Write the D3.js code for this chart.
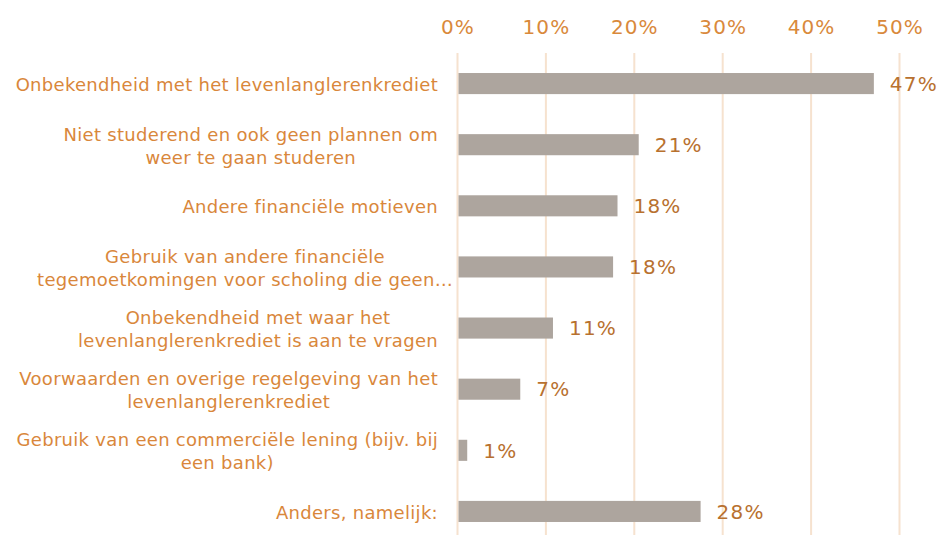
<!DOCTYPE html>
<html>
<head>
<meta charset="utf-8">
<script src="https://cdn.jsdelivr.net/npm/d3@7"></script>
<style>
  body { margin: 0; background: #fff; }
</style>
</head>
<body>
<div id="chart"></div>
<script>
// data
var categories = [
    ["Onbekendheid met het levenlanglerenkrediet"],
    ["Niet studerend en ook geen plannen om", "weer te gaan studeren"],
    ["Andere financiële motieven"],
    ["Gebruik van andere financiële", "tegemoetkomingen voor scholing die geen…"],
    ["Onbekendheid met waar het", "levenlanglerenkrediet is aan te vragen"],
    ["Voorwaarden en overige regelgeving van het", "levenlanglerenkrediet"],
    ["Gebruik van een commerciële lening (bijv. bij", "een bank)"],
    ["Anders, namelijk:"]
];
var values = [0.471, 0.205, 0.181, 0.176, 0.108, 0.071, 0.011, 0.275];
var ticks = [0, 0.1, 0.2, 0.3, 0.4, 0.5];

// settings
var W = 941, H = 535,
font = "'DejaVu Sans', Verdana, sans-serif",
col = {label: "#d9873b", tick: "#d9893b", value: "#b8712f", bar: "#ada59e", grid: "#f6e2cf"};

var svg = d3.select("#chart").append("svg")
    .attr("width", W)
    .attr("height", H);

var x = d3.scaleLinear().domain([0, 0.5]).range([457.5, 899.5]);
var y = d3.scaleBand()
    .domain(d3.range(categories.length))
    .range([53, 542])
    .paddingInner(0.655)
    .paddingOuter(0.3275);

// gridlines
svg.append("g")
    .selectAll("line")
    .data(ticks)
    .enter()
    .append("line")
        .attr("x1", d => x(d))
        .attr("x2", d => x(d))
        .attr("y1", 53)
        .attr("y2", H)
        .attr("stroke", col.grid)
        .attr("stroke-width", 2);

// top axis
var xAxis = svg.append("g")
    .attr("transform", "translate(0,33.5)")
    .call(d3.axisTop(x).tickValues(ticks).tickFormat(d3.format(".0%")).tickSize(0).tickPadding(0));
xAxis.select(".domain").remove();
xAxis.selectAll("text")
    .attr("font-family", font)
    .attr("font-size", "20px")
    .attr("letter-spacing", "1.1px")
    .attr("fill", col.tick);

// bars
svg.append("g")
    .selectAll("rect")
    .data(values)
    .enter()
    .append("rect")
        .attr("x", x(0) + 1)
        .attr("y", (d, i) => y(i))
        .attr("width", d => x(d) - x(0) - 1)
        .attr("height", y.bandwidth())
        .attr("fill", col.bar);

// value labels
svg.append("g")
    .selectAll("text")
    .data(values)
    .enter()
    .append("text")
        .attr("x", d => x(d) + 16)
        .attr("y", (d, i) => y(i) + y.bandwidth() / 2)
        .attr("dy", "0.36em")
        .attr("font-family", font)
        .attr("font-size", "20px")
        .attr("letter-spacing", "1.2px")
        .attr("fill", col.value)
        .text(d => Math.round(d * 100) + "%");

// category labels: block right aligned, lines centered in block
var lineH = 23, right = 438;
categories.forEach(function(lines, i) {
    var cy = y(i) + y.bandwidth() / 2 + 1;
    var g = svg.append("g");
    var t = g.selectAll("text")
        .data(lines)
        .enter()
        .append("text")
            .attr("y", (d, j) => cy + (j - (lines.length - 1) / 2) * lineH)
            .attr("dy", "0.36em")
            .attr("font-family", font)
            .attr("font-size", "18px")
            .attr("letter-spacing", "0.3px")
            .attr("fill", col.label)
            .attr("text-anchor", "middle")
            .text(d => d);
    var maxW = 0;
    t.each(function(d) {
        var w = this.getComputedTextLength();
        if (d.slice(-1) === "…") w -= 30; // truncated line overhangs
        maxW = Math.max(maxW, w);
    });
    t.attr("x", right - maxW / 2);
});
</script>
</body>
</html>
